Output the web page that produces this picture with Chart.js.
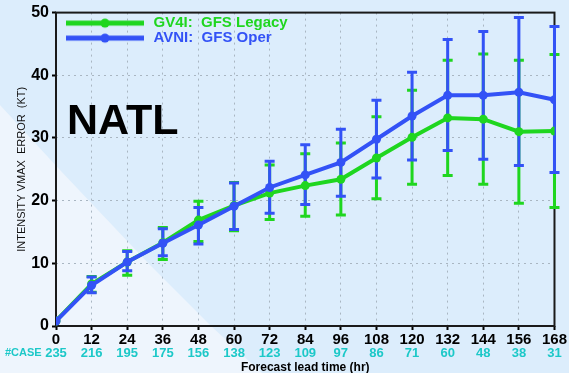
<!DOCTYPE html>
<html>
<head>
<meta charset="utf-8">
<script src="https://cdn.jsdelivr.net/npm/chart.js@4.4.1/dist/chart.umd.min.js"></script>
<style>
  html, body { margin: 0; padding: 0; background: #dcedfc; }
  #wrap { width: 569px; height: 373px; }
</style>
</head>
<body>
<div id="wrap"><canvas id="chart" width="569" height="373"></canvas></div>
<script>
// Forecast lead times (hr) and number of verifying cases
const leadHours  = [0, 12, 24, 36, 48, 60, 72, 84, 96, 108, 120, 132, 144, 156, 168];
const caseCounts = [235, 216, 195, 175, 156, 138, 123, 109, 97, 86, 71, 60, 48, 38, 31];

// GV4I: GFS Legacy — mean intensity error and error-bar limits (kt)
const legacyMean = [0.8, 6.7, 10.2, 13.3, 16.9, 19.2, 21.2, 22.4, 23.4, 26.8, 30.1, 33.2, 33.0, 31.0, 31.1];
const legacyLow  = [null, 5.4, 8.1, 10.6, 13.5, 15.2, 17.0, 17.5, 17.7, 20.3, 22.6, 24.0, 22.6, 19.6, 18.9];
const legacyHigh = [null, 7.9, 12.0, 15.7, 19.9, 22.9, 25.7, 27.5, 29.2, 33.4, 37.6, 42.4, 43.4, 42.4, 43.3];

// AVNI: GFS Oper — mean intensity error and error-bar limits (kt)
const operMean = [0.8, 6.5, 10.2, 13.2, 16.1, 19.1, 22.1, 24.1, 26.1, 29.8, 33.5, 36.8, 36.8, 37.3, 36.1];
const operLow  = [null, 5.3, 8.8, 11.2, 13.1, 15.4, 18.0, 19.4, 20.7, 23.6, 26.5, 28.0, 26.6, 25.6, 24.5];
const operHigh = [null, 7.8, 11.9, 15.5, 18.9, 22.8, 26.3, 28.9, 31.4, 36.0, 40.5, 45.7, 47.0, 49.2, 47.8];

// Axis ticks
const yTicks = [0, 10, 20, 30, 40, 50];

const FONT = "'Liberation Sans', Arial, sans-serif";
const GREEN = '#1fd61f';
const BLUE = '#3352f6';
const CYAN = '#1cc8c8';
const GRID = '#a9b6c2';

// Legend glyph: a short thick line with a dot in its middle
function legendGlyph(color) {
  const c = document.createElement('canvas');
  c.width = 90; c.height = 12;
  const g = c.getContext('2d');
  g.strokeStyle = color; g.lineWidth = 5;
  g.beginPath(); g.moveTo(10, 6); g.lineTo(88, 6); g.stroke();
  g.fillStyle = color;
  g.beginPath(); g.arc(49, 6, 4.5, 0, Math.PI * 2); g.fill();
  return c;
}

// Two-tone page background with the pale wedge at lower left
const backdrop = {
  id: 'backdrop',
  beforeDraw(chart) {
    const { ctx, width, height } = chart;
    ctx.save();
    ctx.fillStyle = '#dcedfc';
    ctx.fillRect(0, 0, width, height);
    ctx.fillStyle = '#eef5fd';
    ctx.beginPath();
    ctx.moveTo(0, 105);
    ctx.lineTo(60, 170);
    ctx.lineTo(150, 265);
    ctx.lineTo(210, 325);
    ctx.lineTo(262, height);
    ctx.lineTo(0, height);
    ctx.closePath();
    ctx.fill();
    ctx.restore();
  }
};

// Frame, basin tag and vertical error bars (drawn under the lines)
const decorations = {
  id: 'decorations',
  beforeDatasetsDraw(chart) {
    const { ctx, chartArea: a, scales } = chart;
    const xs = scales.x, ys = scales.y;
    ctx.save();
    ctx.strokeStyle = '#1a1a1a';
    ctx.lineWidth = 2;
    ctx.strokeRect(a.left, a.top, a.right - a.left, a.bottom - a.top);

    ctx.fillStyle = '#000';
    ctx.font = 'bold 43px ' + FONT;
    ctx.textAlign = 'left';
    ctx.textBaseline = 'alphabetic';
    ctx.fillText('NATL', 67, 134);

    chart.data.datasets.forEach(ds => {
      ctx.strokeStyle = ds.borderColor;
      ctx.lineWidth = 3;
      leadHours.forEach((h, i) => {
        const lo = ds.errLow[i], hi = ds.errHigh[i];
        if (lo == null || hi == null) return;
        const px = xs.getPixelForValue(h);
        const pLo = ys.getPixelForValue(lo), pHi = ys.getPixelForValue(hi);
        ctx.beginPath();
        ctx.moveTo(px, pLo); ctx.lineTo(px, pHi);
        ctx.moveTo(px - 5, pLo); ctx.lineTo(px + 5, pLo);
        ctx.moveTo(px - 5, pHi); ctx.lineTo(px + 5, pHi);
        ctx.stroke();
      });
    });
    ctx.restore();
  },
  afterDraw(chart) {
    const { ctx } = chart;
    ctx.save();
    ctx.fillStyle = CYAN;
    ctx.font = 'bold 11px ' + FONT;
    ctx.textAlign = 'left';
    ctx.textBaseline = 'middle';
    ctx.fillText('#CASE', 5, 353);
    ctx.restore();
  }
};

const toPoints = vals => leadHours.map((h, i) => ({ x: h, y: vals[i] }));

new Chart(document.getElementById('chart'), {
  type: 'line',
  data: {
    datasets: [
      {
        label: 'GV4I:  GFS Legacy',
        data: toPoints(legacyMean),
        errLow: legacyLow, errHigh: legacyHigh,
        borderColor: GREEN, backgroundColor: GREEN,
        borderWidth: 4, pointRadius: 4.5, pointBorderWidth: 0,
        order: 1
      },
      {
        label: 'AVNI:  GFS Oper',
        data: toPoints(operMean),
        errLow: operLow, errHigh: operHigh,
        borderColor: BLUE, backgroundColor: BLUE,
        borderWidth: 4, pointRadius: 4.5, pointBorderWidth: 0,
        order: 0
      }
    ]
  },
  options: {
    responsive: false,
    animation: false,
    devicePixelRatio: 1,
    layout: { padding: { top: 11, right: 14, left: 0, bottom: 0 } },
    plugins: {
      tooltip: { enabled: false },
      legend: {
        position: 'chartArea',
        align: 'start',
        title: { display: true, text: '', font: { size: 3, lineHeight: 1.2 }, padding: { top: 12, bottom: 0 } },
        labels: {
          usePointStyle: true,
          pointStyleWidth: 90,
          padding: 0,
          font: { family: FONT, size: 15, weight: 'bold' },
          sort: (a, b) => a.datasetIndex - b.datasetIndex,
          generateLabels: chart => chart.data.datasets.map((ds, i) => ({
            text: ds.label,
            fontColor: ds.borderColor,
            pointStyle: legendGlyph(ds.borderColor),
            fillStyle: 'transparent',
            strokeStyle: 'transparent',
            lineWidth: 0,
            hidden: false,
            datasetIndex: i
          }))
        }
      }
    },
    scales: {
      x: {
        type: 'linear',
        position: 'bottom',
        min: 0, max: 168,
        afterBuildTicks: s => { s.ticks = leadHours.map(v => ({ value: v })); },
        afterFit: s => { s.height = 21; },
        ticks: {
          autoSkip: false, maxRotation: 0, padding: 2,
          color: '#000',
          font: { family: FONT, size: 15, weight: 'bold', lineHeight: 1.1 }
        },
        grid: { color: GRID, lineWidth: 1, tickColor: '#000', tickLength: 4, tickWidth: 2, tickBorderDash: [] },
        border: { display: false, dash: [2, 4] }
      },
      xc: {
        type: 'linear',
        position: 'bottom',
        min: 0, max: 168,
        afterBuildTicks: s => { s.ticks = leadHours.map(v => ({ value: v })); },
        afterFit: s => { s.height = 26; },
        ticks: {
          autoSkip: false, maxRotation: 0, padding: 0,
          color: CYAN,
          font: { family: FONT, size: 13, weight: 'bold', lineHeight: 1 },
          callback: v => {
            const i = leadHours.indexOf(v);
            return i >= 0 ? String(caseCounts[i]) : '';
          }
        },
        grid: { display: false, drawTicks: false },
        border: { display: false },
        title: {
          display: true,
          text: 'Forecast lead time (hr)',
          color: '#000',
          font: { family: FONT, size: 12, weight: 'bold', lineHeight: 1 },
          padding: { top: 0, bottom: -1 }
        }
      },
      y: {
        type: 'linear',
        min: 0, max: 50,
        afterBuildTicks: s => { s.ticks = yTicks.map(v => ({ value: v })); },
        afterFit: s => { s.width = 56; },
        ticks: {
          padding: 3,
          color: '#000',
          font: { family: FONT, size: 16, weight: 'bold' }
        },
        grid: { color: GRID, lineWidth: 1, tickColor: '#000', tickLength: 4, tickWidth: 2, tickBorderDash: [] },
        border: { display: false, dash: [2, 4] },
        title: {
          display: true,
          text: 'INTENSITY VMAX  ERROR  (KT)',
          color: '#111',
          font: { family: FONT, size: 11, lineHeight: 1 },
          padding: { top: 16, bottom: 0 }
        }
      }
    }
  },
  plugins: [backdrop, decorations]
});
</script>
</body>
</html>
